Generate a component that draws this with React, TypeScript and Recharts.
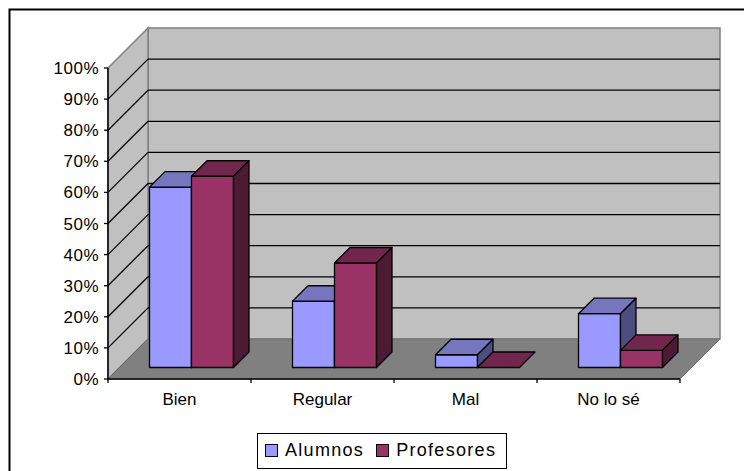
import { Bar, BarChart, CartesianGrid, Legend, XAxis, YAxis, usePlotArea } from 'recharts'

const CATEGORIES = ['Bien', 'Regular', 'Mal', 'No lo sé']
const ALUMNOS = [58, 21.3, 4.1, 17.3]
const PROFESORES = [61.5, 33.6, 0, 5.5]
const PERCENT_TICKS = [0, 10, 20, 30, 40, 50, 60, 70, 80, 90, 100]

const data = CATEGORIES.map((name, i) => ({
  name,
  Alumnos: ALUMNOS[i],
  Profesores: PROFESORES[i],
}))

const FONT = '"Liberation Sans", Arial, sans-serif'
const WALL_DEPTH = 40
// bars stand a little way back from the front edge of the floor
const BAR_INSET_X = 11.5
const BAR_INSET_Y = 11.5
const BAR_DEPTH = 15.5

const COLORS = {
  Alumnos: { front: '#9999FF', top: '#7676BF', side: '#4D4D80' },
  Profesores: { front: '#993366', top: '#73264D', side: '#4D1A33' },
}

// back wall, side wall and floor of the 3D box
function Walls() {
  const plot = usePlotArea()
  if (!plot) return null
  const { x, y, width, height } = plot
  const d = WALL_DEPTH
  const bottom = y + height
  return (
    <g>
      <path d="M9.5 471V9.5H744" fill="none" stroke="#000" strokeWidth={2} />
      <polygon
        points={`${x + d},${y - d} ${x + width + d},${y - d} ${x + width + d},${bottom - d} ${x + d},${bottom - d}`}
        fill="#C0C0C0"
        stroke="#808080"
        strokeWidth={1.5}
      />
      <polygon
        points={`${x},${y} ${x + d},${y - d} ${x + d},${bottom - d} ${x},${bottom}`}
        fill="#C0C0C0"
        stroke="#808080"
        strokeWidth={1.5}
      />
      <polygon
        points={`${x},${bottom} ${x + d},${bottom - d} ${x + width + d},${bottom - d} ${x + width},${bottom}`}
        fill="#808080"
        stroke="#6E6E6E"
        strokeWidth={1}
      />
    </g>
  )
}

// each grid line runs along the side wall and then across the back wall
function WallLine(props: any) {
  const { x1, x2, y1, index, first, last } = props
  const d = WALL_DEPTH
  return (
    <g>
      {index === 0 && <Walls />}
      {!first && !last && (
        <g stroke="#000" strokeWidth={1.3}>
          <line x1={x1} y1={y1} x2={x1 + d} y2={y1 - d} />
          <line x1={x1 + d} y1={y1 - d} x2={x2 + d} y2={y1 - d} />
        </g>
      )}
    </g>
  )
}

function Box3D(props: any) {
  const { x, y, width, height, dataKey } = props
  const c = COLORS[dataKey as keyof typeof COLORS]
  const b = BAR_DEPTH
  const l = x + BAR_INSET_X
  const r = l + width
  const t = y - BAR_INSET_Y
  const base = t + height
  return (
    <g stroke="#000" strokeWidth={1.3} strokeLinejoin="round">
      {height > 0 && <rect x={l} y={t} width={width} height={height} fill={c.front} />}
      <polygon points={`${l},${t} ${l + b},${t - b} ${r + b},${t - b} ${r},${t}`} fill={c.top} />
      {height > 0 && (
        <polygon points={`${r},${t} ${r + b},${t - b} ${r + b},${base - b} ${r},${base}`} fill={c.side} />
      )}
    </g>
  )
}

function CategoryTick(props: any) {
  const { x, y, payload } = props
  const half = 143 / 2
  return (
    <g>
      <line x1={x - half} y1={y - 8} x2={x - half} y2={y - 4} stroke="#000" strokeWidth={1.3} />
      {payload.index === CATEGORIES.length - 1 && (
        <line x1={x + half} y1={y - 8} x2={x + half} y2={y - 4} stroke="#000" strokeWidth={1.3} />
      )}
      <text x={x} y={y + 18} textAnchor="middle" fontSize={17} fontFamily={FONT} fill="#000">
        {payload.value}
      </text>
    </g>
  )
}

function LegendBox({ payload }: any) {
  return (
    <div
      style={{
        boxSizing: 'border-box',
        width: 250,
        height: 36,
        border: '1.5px solid #000',
        background: '#fff',
        display: 'flex',
        alignItems: 'center',
        paddingLeft: 7,
        fontFamily: FONT,
        fontSize: 18,
        letterSpacing: 1.3,
        color: '#000',
      }}
    >
      {payload.map((p: any, i: number) => (
        <span key={p.value} style={{ display: 'flex', alignItems: 'center', marginLeft: i ? 12 : 0 }}>
          <span
            style={{
              boxSizing: 'border-box',
              width: 13,
              height: 13,
              border: '1.3px solid #000',
              background: COLORS[p.value as keyof typeof COLORS].front,
              marginRight: 7,
            }}
          />
          {p.value}
        </span>
      ))}
    </div>
  )
}

export default function App() {
  return (
    <div style={{ position: 'absolute', left: 0, top: 0, width: 744, height: 471, background: '#fff' }}>
      <BarChart
        width={744}
        height={471}
        data={data}
        margin={{ top: 68, right: 64, bottom: 0, left: 0 }}
        barCategoryGap={30}
        barGap={0}
      >
        <CartesianGrid
          vertical={false}
          horizontal={({ key, ...p }: any) => (
            <WallLine key={key} {...p} first={p.y1 > 370} last={p.y1 < 75} />
          )}
        />
        <YAxis
          width={108}
          domain={[0, 100]}
          ticks={PERCENT_TICKS}
          interval={0}
          tickFormatter={(v) => `${v}%`}
          tick={{ fill: '#000', fontSize: 17, fontFamily: FONT, letterSpacing: 0.5 }}
          tickSize={4}
          tickMargin={5}
          axisLine={{ stroke: '#000', strokeWidth: 1.5 }}
          tickLine={{ stroke: '#000', strokeWidth: 1.3 }}
        />
        <XAxis
          dataKey="name"
          height={56}
          interval={0}
          tick={<CategoryTick />}
          tickLine={false}
          axisLine={{ stroke: '#000', strokeWidth: 1.5 }}
        />
        <Bar dataKey="Alumnos" fill={COLORS.Alumnos.front} shape={<Box3D />} isAnimationActive={false} />
        <Bar dataKey="Profesores" fill={COLORS.Profesores.front} shape={<Box3D />} isAnimationActive={false} />
        <Legend
          content={<LegendBox />}
          width={250}
          height={36}
          wrapperStyle={{ left: 257, top: 432.5, bottom: 'auto', width: 250, height: 36 }}
        />
      </BarChart>
    </div>
  )
}
